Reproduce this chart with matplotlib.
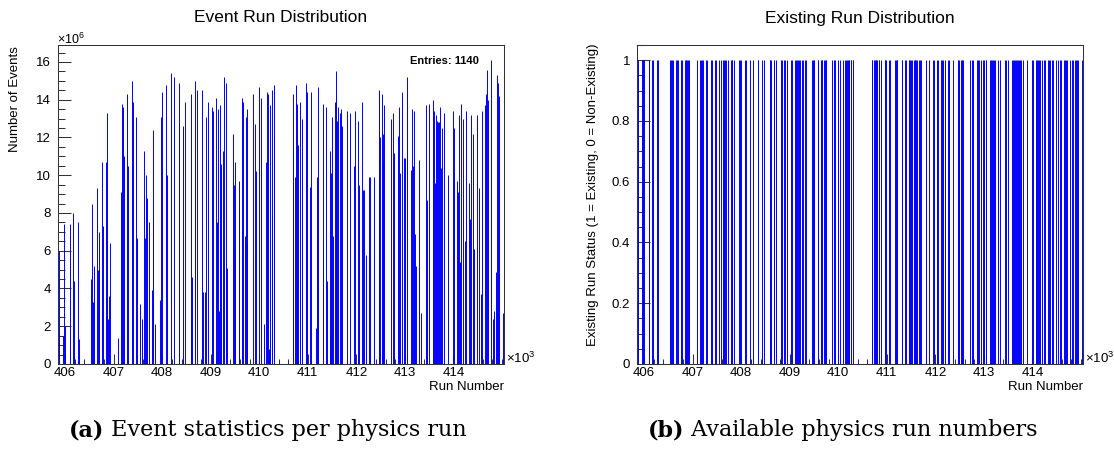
import matplotlib
matplotlib.use('Agg')
import matplotlib.pyplot as plt
import numpy as np
from matplotlib.ticker import MultipleLocator, FixedLocator, FuncFormatter

# run numbers and events per run (in units of 1e6)
runs = [405883, 405965, 405986, 406000, 406096, 406110, 406171, 406192, 406268, 406281,
        406542, 406556, 406570, 406590, 406666, 406687, 406707, 406755, 406776, 406845,
        406858, 406872, 406893, 406913, 406934, 407099, 407161, 407181, 407202, 407223,
        407278, 407292, 407387, 407401, 407470, 407484, 407539, 407580, 407621, 407642,
        407676, 407697, 407724, 407800, 407807, 407820, 407855, 407965, 407978, 407992,
        408088, 408102, 408191,
        408247, 408344, 408357, 408433, 408461, 408591, 408605, 408619, 408667, 408687,
        408708, 408825, 408839, 408873, 408907, 408949, 409024, 409038, 409107, 409127,
        409148, 409168, 409182, 409217, 409251, 409265, 409320, 409340, 409450, 409471,
        409491, 409498, 409574, 409588, 409643, 409656, 409670, 409705, 409725, 409739,
        409753, 409863, 409918, 409938, 410000, 410041, 410089, 410131, 410151, 410172,
        410193, 410213, 410227, 410254, 410268, 410296, 410309,
        410688, 410702, 410729, 410757, 410770, 410784, 410798, 410832, 410846, 410880,
        410956, 410970, 410983, 411038, 411059, 411169, 411183, 411203, 411217, 411306,
        411320, 411382, 411403, 411451, 411464, 411485, 411506, 411526, 411554, 411574,
        411588, 411602, 411629, 411657, 411678, 411698, 411801, 411863, 411952, 411966,
        412035, 412049, 412111, 412138, 412159, 412193, 412262, 412275, 412365, 412461,
        412475, 412488, 412523, 412543, 412557, 412578, 412708, 412763, 412784, 412860,
        412880, 412894,
        412935, 412976, 412997, 413038, 413052, 413120, 413141, 413168, 413189, 413210,
        413230, 413292, 413327, 413430, 413450, 413491, 413574, 413595, 413615, 413643,
        413663, 413677, 413698, 413718, 413746, 413766, 413801, 413897, 413986, 414014,
        414069, 414089, 414117, 414131, 414158, 414186, 414241, 414261, 414323, 414344,
        414364, 414392, 414412, 414488, 414516, 414564, 414591, 414639, 414667, 414694,
        414715, 414763, 414804, 414832, 414880, 414893, 414914, 414928, 415017, 415030]

events_millions = [6.0, 1.5, 7.4, 2.0, 6.6, 7.4, 8.0, 4.4, 7.5, 1.3,
                   4.5, 8.5, 3.3, 5.2, 9.3, 5.0, 7.0, 10.7, 7.3, 10.7,
                   6.5, 13.3, 2.4, 3.6, 6.4, 1.4, 9.1, 13.8, 13.6, 11.0,
                   14.3, 10.5, 15.0, 13.9, 13.1, 6.7, 3.2, 2.4, 11.3, 6.7,
                   10.0, 8.8, 7.5, 3.9, 12.4, 7.8, 2.1, 3.4, 13.1, 14.4,
                   14.8, 10.0, 15.4,
                   15.2, 14.9, 12.8, 12.6, 13.9, 2.4, 14.3, 4.6, 11.1, 15.0,
                   14.5, 14.5, 3.8, 3.8, 13.1, 13.9, 13.6, 13.4, 14.1, 7.5,
                   13.5, 2.8, 13.7, 10.6, 11.3, 15.2, 14.9, 5.1, 12.2, 9.5,
                   10.7, 6.1, 9.7, 8.7, 14.1, 5.4, 13.9, 6.8, 13.1, 13.5,
                   6.4, 14.3, 12.7, 10.2, 14.7, 14.1, 2.1, 10.7, 14.4, 14.3,
                   0.8, 13.7, 1.7, 7.9, 14.5, 14.8, 12.1,
                   13.1, 14.3, 9.9, 14.8, 12.2, 13.8, 11.6, 4.4, 13.9, 13.0,
                   14.9, 10.0, 14.4, 9.4, 14.4, 1.9, 9.9, 14.7, 6.6, 6.4,
                   13.8, 13.6, 4.4, 1.6, 11.3, 10.1, 13.1, 6.8, 13.9, 15.5,
                   14.2, 12.9, 13.6, 13.3, 13.5, 12.6, 13.4, 13.3, 10.5, 13.4,
                   12.9, 9.5, 13.9, 9.2, 9.2, 5.8, 9.9, 9.9, 9.9, 14.4,
                   14.5, 12.0, 14.3, 12.2, 10.7, 13.7, 13.0, 13.3, 11.2, 12.1,
                   13.6, 10.1,
                   14.4, 10.9, 10.9, 15.2, 14.3, 10.3, 13.5, 10.5, 13.4, 6.9,
                   5.2, 10.8, 2.7, 13.7, 8.7, 13.8, 14.0, 13.4, 9.6, 13.2,
                   12.9, 12.8, 12.8, 13.6, 10.4, 12.5, 13.3, 10.0, 13.4, 12.5,
                   9.7, 9.1, 13.2, 5.4, 13.8, 13.0, 6.5, 13.4, 9.6, 7.7,
                   13.2, 12.2, 6.1, 13.2, 9.3, 3.7, 13.4, 13.7, 14.3, 15.6,
                   14.0, 16.1, 2.4, 2.8, 4.9, 15.3, 14.9, 14.2, 2.7, 5.1]

n_entries = 1140
exists = np.ones(len(runs))

plt.rcParams['font.family'] = ['Liberation Sans', 'DejaVu Sans']
plt.rcParams['mathtext.fontset'] = 'custom'
plt.rcParams['mathtext.rm'] = 'Liberation Sans'

W, H = 1114, 451
fig = plt.figure(figsize=(W / 100, H / 100), dpi=100)
ax1 = fig.add_axes([58 / W, 87 / H, 446 / W, 319 / H])
ax2 = fig.add_axes([637 / W, 87 / H, 446 / W, 319 / H])

blue = '#0000ff'
ax1.vlines(runs, 0, events_millions, color=blue, lw=0.7)
ax2.vlines(runs, 0, exists, color=blue, lw=0.7)

ax1.set_ylim(0, 16.9)
ax1.yaxis.set_major_locator(MultipleLocator(2))
ax1.yaxis.set_minor_locator(MultipleLocator(0.5))
ax2.set_ylim(0, 1.05)
ax2.yaxis.set_major_locator(MultipleLocator(0.2))
ax2.yaxis.set_minor_locator(MultipleLocator(0.05))

for ax in (ax1, ax2):
    ax.set_xlim(405856, 415040)
    ax.xaxis.set_major_locator(FixedLocator(np.arange(406000, 414001, 1000)))
    ax.xaxis.set_minor_locator(MultipleLocator(200))
    ax.xaxis.set_major_formatter(FuncFormatter(lambda v, p: f'{v / 1000:.0f}'))
    ax.yaxis.set_major_formatter(FuncFormatter(lambda v, p: f'{v:g}'))
    ax.tick_params(which='both', direction='in', top=False, right=False,
                   labelsize=9.5, width=0.75, color='#333333')
    ax.tick_params(axis='y', which='major', length=9.4, pad=5)
    ax.tick_params(axis='y', which='minor', length=5)
    ax.tick_params(axis='x', which='major', length=6.9, pad=2.5)
    ax.tick_params(axis='x', which='minor', length=3.5)
    for s in ax.spines.values():
        s.set_linewidth(0.75)
        s.set_color('#333333')

# titles and axis labels, ROOT style
fig.text(281 / W, 1 - 18 / H, 'Event Run Distribution', ha='center', va='center', fontsize=12.5)
fig.text(860 / W, 1 - 18 / H, 'Existing Run Distribution', ha='center', va='center', fontsize=12.5)
fig.text(15 / W, 1 - 46 / H, 'Number of Events', rotation=90, ha='center', va='top', fontsize=9.5)
fig.text(593 / W, 1 - 43 / H, 'Existing Run Status (1 = Existing, 0 = Non-Existing)',
         rotation=90, ha='center', va='top', fontsize=9.5)
fig.text(504 / W, 1 - 387 / H, 'Run Number', ha='right', va='center', fontsize=9.5)
fig.text(1083 / W, 1 - 387 / H, 'Run Number', ha='right', va='center', fontsize=9.5)
fig.text(57 / W, 1 - 43.5 / H, r'$\times10^{6}$', ha='left', va='baseline', fontsize=9)
fig.text(506 / W, 1 - 363 / H, r'$\times10^{3}$', ha='left', va='baseline', fontsize=9.5)
fig.text(1085 / W, 1 - 363 / H, r'$\times10^{3}$', ha='left', va='baseline', fontsize=9.5)
fig.text(479 / W, 1 - 61 / H, f'Entries: {n_entries}', ha='right', va='center',
         fontsize=8, weight='bold')

# sub-captions under the panels
renderer = fig.canvas.get_renderer()


def caption(cx, label, rest):
    kw = dict(family='DejaVu Serif', fontsize=16, va='baseline')
    t1 = fig.text(0, 1 - 436 / H, label, weight='bold', **kw)
    t2 = fig.text(0, 1 - 436 / H, ' ' + rest, **kw)
    w1 = t1.get_window_extent(renderer).width
    w2 = t2.get_window_extent(renderer).width
    x0 = cx - (w1 + w2) / 2
    t1.set_x(x0 / W)
    t2.set_x((x0 + w1) / W)


caption(268, '(a)', 'Event statistics per physics run')
caption(843, '(b)', 'Available physics run numbers')

fig.savefig('out.png', dpi=100)
